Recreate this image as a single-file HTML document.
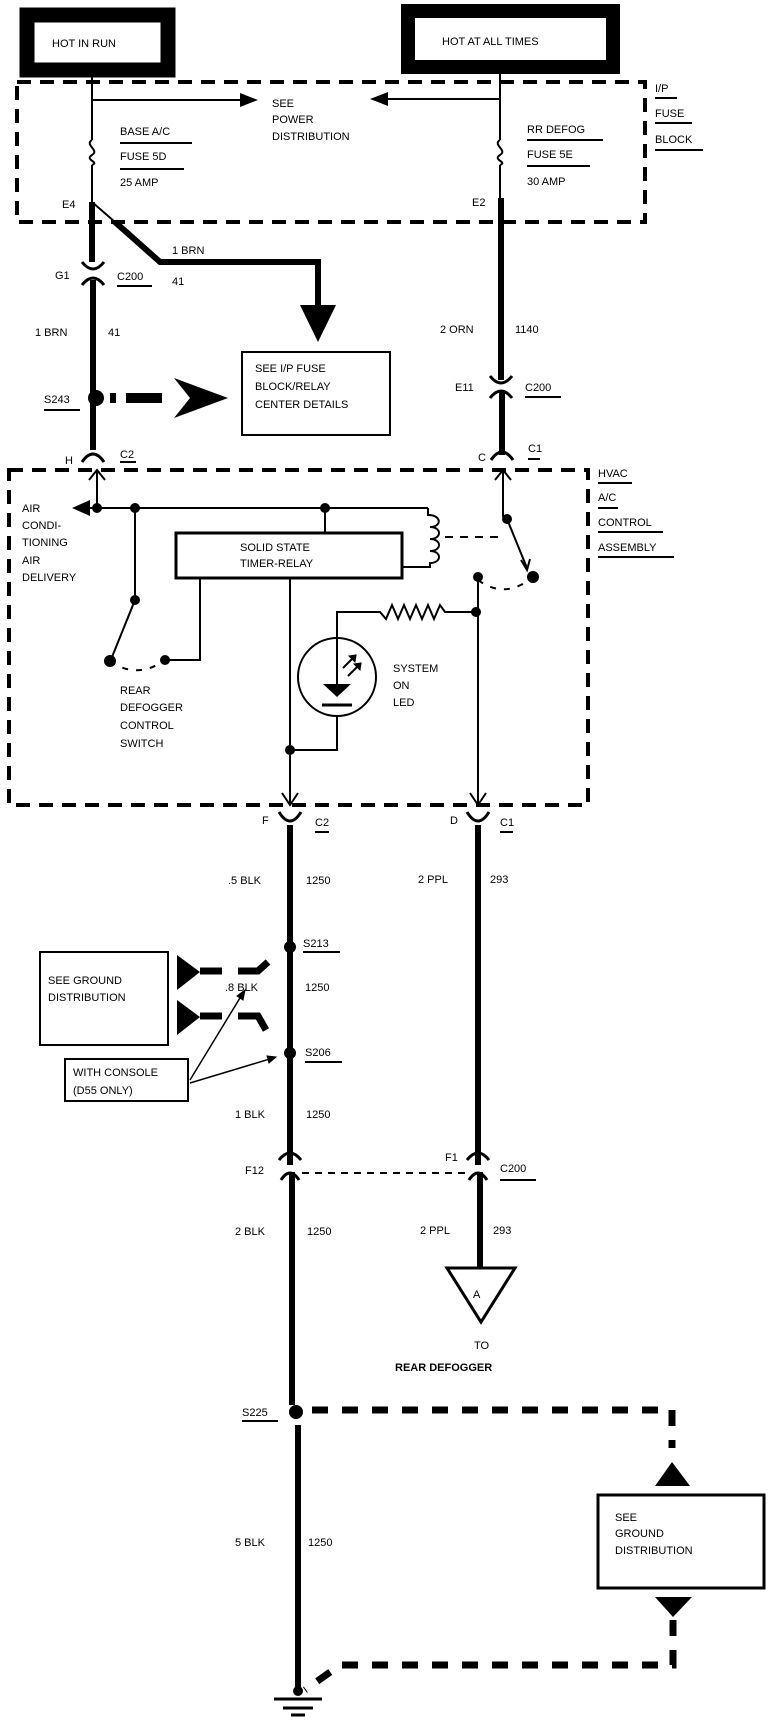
<!DOCTYPE html>
<html><head><meta charset="utf-8"><style>
html,body{margin:0;padding:0;background:#fff}
svg{display:block}
text{font-family:"Liberation Sans",sans-serif;font-size:11px;fill:#000}
</style></head><body>
<svg width="784" height="1722" viewBox="0 0 784 1722" xmlns="http://www.w3.org/2000/svg">
<g fill="none" stroke="#000">
<rect x="27" y="15" width="141" height="55" stroke-width="15"/>
<rect x="408" y="11" width="205" height="56" stroke-width="14"/>
<rect x="17" y="82" width="628" height="140" stroke-width="4" stroke-dasharray="14,9"/>
<path d="M92 77V140 M92 165V202" stroke-width="2"/>
<path d="M92 140 C84 145 100 150 92 155 C84 160 100 162 92 165" stroke-width="2"/>
<path d="M92 100H245" stroke-width="2"/>
<path d="M258 100L240 93V107Z" fill="#000" stroke="none"/>
<path d="M500 67V140 M500 165V198" stroke-width="2"/>
<path d="M500 140 C492 145 508 150 500 155 C492 160 508 162 500 165" stroke-width="2"/>
<path d="M500 99H385" stroke-width="2"/>
<path d="M370 99L388 92V106Z" fill="#000" stroke="none"/>
<path d="M120 143H192 M120 169H184 M527 140H603 M527 166H590 M655 98H677 M655 123H692 M655 150H703" stroke-width="2"/>
<path d="M92 202V262" stroke-width="6"/>
<path d="M92 202L115 222" stroke-width="2"/>
<path d="M115 222L160 262H318V305" stroke-width="6"/>
<path d="M300 305H336L318 342Z" fill="#000" stroke="none"/>
<path d="M82 262Q93 276 104 262" stroke-width="3"/>
<path d="M82 285Q93 271 104 285" stroke-width="3"/>
<path d="M93 280V450" stroke-width="6"/>
<path d="M117 286H152 M44 410H80 M120 462H136 M525 397H561 M528 459H540" stroke-width="2"/>
<circle cx="96" cy="398" r="8" fill="#000" stroke="none"/>
<path d="M110 398H116 M126 398H162" stroke-width="10"/>
<path d="M174 378L228 398L174 418L190 398Z" fill="#000" stroke="none"/>
<rect x="242" y="352" width="148" height="83" stroke-width="2"/>
<path d="M82 462Q93 446 104 462" stroke-width="3"/>
<path d="M501 198V380" stroke-width="6"/>
<path d="M490 376Q501 390 512 376" stroke-width="3"/>
<path d="M490 398Q501 384 512 398" stroke-width="3"/>
<path d="M502 392V455" stroke-width="6"/>
<path d="M491 460Q502 444 513 460" stroke-width="3"/>
<rect x="9" y="470" width="579" height="335" stroke-width="4" stroke-dasharray="14,9"/>
<path d="M598 483H632 M598 508H618 M598 532H663 M598 557H674" stroke-width="2"/>
<path d="M97 470V508 M89 480L97 470L105 480" stroke-width="2"/>
<path d="M503 470V517 M495 480L503 470L511 480" stroke-width="2"/>
<path d="M85 508H428" stroke-width="2"/>
<path d="M72 508L90 500V516Z" fill="#000" stroke="none"/>
<circle cx="97" cy="508" r="5" fill="#000" stroke="none"/>
<circle cx="135" cy="508" r="5" fill="#000" stroke="none"/>
<circle cx="325" cy="508" r="5" fill="#000" stroke="none"/>
<path d="M325 508V532" stroke-width="2"/>
<path d="M428 508V515 C442 515 442 527 430 527 C442 527 442 539 430 539 C442 539 442 551 430 551 C442 551 442 563 430 563 V567 H402" stroke-width="2"/>
<rect x="176" y="533" width="226" height="45" stroke-width="3"/>
<path d="M135 508V600 L112 657" stroke-width="2"/>
<circle cx="135" cy="600" r="5" fill="#000" stroke="none"/>
<circle cx="110" cy="661" r="6" fill="#000" stroke="none"/>
<circle cx="165" cy="660" r="5" fill="#000" stroke="none"/>
<path d="M110 661Q137 680 165 660" stroke-width="2" stroke-dasharray="6,8"/>
<path d="M165 660H200V578" stroke-width="2"/>
<path d="M445 537H505" stroke-width="2" stroke-dasharray="8,7"/>
<circle cx="507" cy="519" r="5" fill="#000" stroke="none"/>
<path d="M507 519L527 568 M521 560L527 570L530 559" stroke-width="2"/>
<circle cx="533" cy="577" r="6" fill="#000" stroke="none"/>
<circle cx="478" cy="577" r="5" fill="#000" stroke="none"/>
<path d="M478 580Q505 600 533 577" stroke-width="2" stroke-dasharray="6,8"/>
<path d="M478 577V805 M470 793L478 805L486 793" stroke-width="2"/>
<circle cx="476" cy="612" r="5" fill="#000" stroke="none"/>
<path d="M476 612H445 L440 605 L434 619 L428 605 L422 619 L416 605 L410 619 L404 605 L398 619 L392 605 L386 619 L380 612 H337 V693" stroke-width="2"/>
<circle cx="337" cy="677" r="39" stroke-width="2"/>
<path d="M323 684H351L337 697Z" fill="#000" stroke="none"/>
<path d="M322 705H352" stroke-width="3"/>
<path d="M343 668L356 655 M348 676L361 663" stroke-width="2"/>
<path d="M356 655l-7 1 6 6Z M361 663l-7 1 6 6Z" fill="#000"/>
<path d="M337 716V750H290" stroke-width="2"/>
<path d="M290 578V805 M282 793L290 805L298 793" stroke-width="2"/>
<circle cx="290" cy="750" r="5" fill="#000" stroke="none"/>
<path d="M279 812Q290 830 301 812" stroke-width="3"/>
<path d="M467 812Q478 830 489 812" stroke-width="3"/>
<path d="M290 825V1165" stroke-width="6"/>
<path d="M478 825V1165" stroke-width="6"/>
<path d="M315 832H329 M500 832H513 M303 952H340 M305 1062H342 M500 1180H536 M242 1421H278" stroke-width="2"/>
<circle cx="290" cy="947" r="6" fill="#000" stroke="none"/>
<circle cx="290" cy="1053" r="6" fill="#000" stroke="none"/>
<rect x="40" y="952" width="128" height="93" stroke-width="2"/>
<path d="M177 955L200 972L177 990Z M177 1000L200 1017L177 1035Z" fill="#000" stroke="none"/>
<path d="M200 971H222 M238 971H258L268 962 M200 1016H222 M238 1016H258L266 1030" stroke-width="7"/>
<rect x="65" y="1059" width="123" height="42" stroke-width="2"/>
<path d="M190 1080L243 993 M190 1083L273 1058" stroke-width="1.5"/>
<path d="M245 990l-8 6 6 4Z M276 1057l-9 -1 2 7Z" fill="#000" stroke-width="1"/>
<path d="M279 1160Q290 1146 301 1160" stroke-width="3"/>
<path d="M281 1180Q290 1166 299 1180" stroke-width="3"/>
<path d="M467 1160Q478 1146 489 1160" stroke-width="3"/>
<path d="M469 1180Q478 1166 487 1180" stroke-width="3"/>
<path d="M302 1173H468" stroke-width="2" stroke-dasharray="7,6"/>
<path d="M292 1172V1405" stroke-width="6"/>
<path d="M480 1172V1268" stroke-width="6"/>
<path d="M447 1268H515L481 1322Z" stroke-width="3"/>
<circle cx="296" cy="1412" r="7" fill="#000" stroke="none"/>
<path d="M298 1425V1690" stroke-width="6"/>
<path d="M312 1410H672V1448" stroke-width="7" stroke-dasharray="16,14"/>
<path d="M672 1462L655 1486H690Z" fill="#000" stroke="none"/>
<rect x="598" y="1495" width="166" height="93" stroke-width="3"/>
<path d="M655 1597H692L673 1617Z" fill="#000" stroke="none"/>
<path d="M673 1620V1665H340L305 1690" stroke-width="7" stroke-dasharray="16,14"/>
<circle cx="298" cy="1691" r="5" fill="#000" stroke="none"/>
<path d="M274 1699H322 M283 1708H313 M291 1715H305" stroke-width="3"/>
</g>
<g>
<text x="52" y="47" font-size="12">HOT IN RUN</text>
<text x="442" y="45" font-size="12">HOT AT ALL TIMES</text>
<text x="272" y="107">SEE</text>
<text x="272" y="123">POWER</text>
<text x="272" y="140">DISTRIBUTION</text>
<text x="120" y="135">BASE A/C</text>
<text x="120" y="160">FUSE 5D</text>
<text x="120" y="186">25 AMP</text>
<text x="527" y="133">RR DEFOG</text>
<text x="527" y="158">FUSE 5E</text>
<text x="527" y="185">30 AMP</text>
<text x="655" y="92">I/P</text>
<text x="655" y="117">FUSE</text>
<text x="655" y="143">BLOCK</text>
<text x="62" y="208">E4</text>
<text x="472" y="206">E2</text>
<text x="172" y="254">1 BRN</text>
<text x="172" y="285">41</text>
<text x="55" y="279">G1</text>
<text x="117" y="280">C200</text>
<text x="35" y="336">1 BRN</text>
<text x="108" y="336">41</text>
<text x="44" y="403">S243</text>
<text x="255" y="372">SEE I/P FUSE</text>
<text x="255" y="390">BLOCK/RELAY</text>
<text x="255" y="408">CENTER DETAILS</text>
<text x="65" y="464">H</text>
<text x="120" y="458">C2</text>
<text x="440" y="333">2 ORN</text>
<text x="515" y="333">1140</text>
<text x="455" y="391">E11</text>
<text x="525" y="391">C200</text>
<text x="478" y="461">C</text>
<text x="528" y="452">C1</text>
<text x="598" y="477">HVAC</text>
<text x="598" y="501">A/C</text>
<text x="598" y="526">CONTROL</text>
<text x="598" y="551">ASSEMBLY</text>
<text x="22" y="512">AIR</text>
<text x="22" y="529">CONDI-</text>
<text x="22" y="546">TIONING</text>
<text x="22" y="564">AIR</text>
<text x="22" y="581">DELIVERY</text>
<text x="240" y="551">SOLID STATE</text>
<text x="240" y="567">TIMER-RELAY</text>
<text x="393" y="672">SYSTEM</text>
<text x="393" y="689">ON</text>
<text x="393" y="706">LED</text>
<text x="120" y="694">REAR</text>
<text x="120" y="711">DEFOGGER</text>
<text x="120" y="729">CONTROL</text>
<text x="120" y="747">SWITCH</text>
<text x="262" y="824">F</text>
<text x="315" y="826">C2</text>
<text x="450" y="824">D</text>
<text x="500" y="826">C1</text>
<text x="228" y="884">.5 BLK</text>
<text x="306" y="884">1250</text>
<text x="418" y="883">2 PPL</text>
<text x="490" y="883">293</text>
<text x="303" y="947">S213</text>
<text x="48" y="984">SEE GROUND</text>
<text x="48" y="1001">DISTRIBUTION</text>
<text x="225" y="991">.8 BLK</text>
<text x="305" y="991">1250</text>
<text x="305" y="1056">S206</text>
<text x="73" y="1076">WITH CONSOLE</text>
<text x="73" y="1094">(D55 ONLY)</text>
<text x="235" y="1118">1 BLK</text>
<text x="306" y="1118">1250</text>
<text x="245" y="1174">F12</text>
<text x="445" y="1161">F1</text>
<text x="500" y="1172">C200</text>
<text x="235" y="1235">2 BLK</text>
<text x="307" y="1235">1250</text>
<text x="420" y="1234">2 PPL</text>
<text x="493" y="1234">293</text>
<text x="473" y="1298" font-size="16">A</text>
<text x="474" y="1349">TO</text>
<text x="395" y="1371" font-size="17" font-weight="bold">REAR DEFOGGER</text>
<text x="242" y="1416">S225</text>
<text x="615" y="1521">SEE</text>
<text x="615" y="1537">GROUND</text>
<text x="615" y="1554">DISTRIBUTION</text>
<text x="235" y="1546">5 BLK</text>
<text x="308" y="1546">1250</text>
</g>
</svg>
</body></html>
